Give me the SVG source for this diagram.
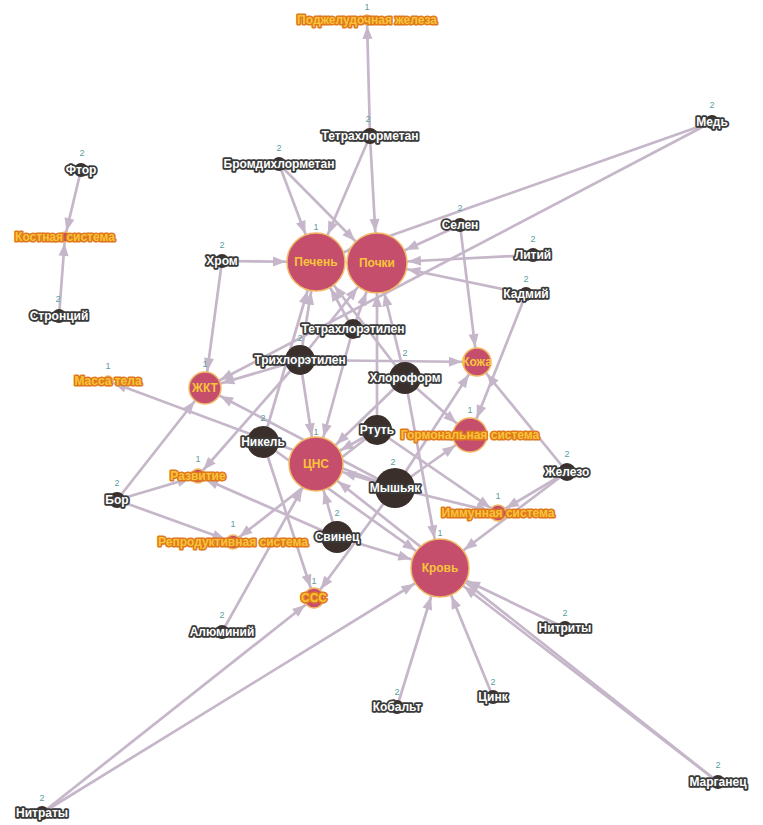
<svg xmlns="http://www.w3.org/2000/svg" width="763" height="825" viewBox="0 0 763 825">
<style>
.e line{stroke:#c5b7c9;stroke-width:2.7;fill:none}
.t circle{fill:#c54e6d;stroke:#f2b866;stroke-width:1.5}
.s circle{fill:#3a2f2b}
text{font-family:"Liberation Sans",Arial,sans-serif;text-anchor:middle;dominant-baseline:central}
.tl{font-size:12px;font-weight:bold;fill:#f8c43a;stroke:#e0791c;stroke-width:3.2;paint-order:stroke;stroke-linejoin:round}
.tin{font-size:12px;font-weight:bold;fill:#f8c43a}
.sl{font-size:12px;font-weight:bold;fill:#ffffff;stroke:#3a3a3a;stroke-width:3.6;paint-order:stroke;stroke-linejoin:round}
.n{font-size:9px;fill:#5b9d9f}
</style>
<defs>
<marker id="a5" markerUnits="userSpaceOnUse" markerWidth="13" markerHeight="10" refX="19" refY="5" orient="auto" overflow="visible"><path d="M0,0L13,5L0,10Z" fill="#c5b7c9"/></marker>
<marker id="a7" markerUnits="userSpaceOnUse" markerWidth="13" markerHeight="10" refX="21" refY="5" orient="auto" overflow="visible"><path d="M0,0L13,5L0,10Z" fill="#c5b7c9"/></marker>
<marker id="a8" markerUnits="userSpaceOnUse" markerWidth="13" markerHeight="10" refX="22" refY="5" orient="auto" overflow="visible"><path d="M0,0L13,5L0,10Z" fill="#c5b7c9"/></marker>
<marker id="a10" markerUnits="userSpaceOnUse" markerWidth="13" markerHeight="10" refX="24" refY="5" orient="auto" overflow="visible"><path d="M0,0L13,5L0,10Z" fill="#c5b7c9"/></marker>
<marker id="a14" markerUnits="userSpaceOnUse" markerWidth="13" markerHeight="10" refX="28" refY="5" orient="auto" overflow="visible"><path d="M0,0L13,5L0,10Z" fill="#c5b7c9"/></marker>
<marker id="a16" markerUnits="userSpaceOnUse" markerWidth="13" markerHeight="10" refX="30" refY="5" orient="auto" overflow="visible"><path d="M0,0L13,5L0,10Z" fill="#c5b7c9"/></marker>
<marker id="a17" markerUnits="userSpaceOnUse" markerWidth="13" markerHeight="10" refX="31" refY="5" orient="auto" overflow="visible"><path d="M0,0L13,5L0,10Z" fill="#c5b7c9"/></marker>
<marker id="a27" markerUnits="userSpaceOnUse" markerWidth="13" markerHeight="10" refX="41" refY="5" orient="auto" overflow="visible"><path d="M0,0L13,5L0,10Z" fill="#c5b7c9"/></marker>
<marker id="a29" markerUnits="userSpaceOnUse" markerWidth="13" markerHeight="10" refX="43" refY="5" orient="auto" overflow="visible"><path d="M0,0L13,5L0,10Z" fill="#c5b7c9"/></marker>
<marker id="a30" markerUnits="userSpaceOnUse" markerWidth="13" markerHeight="10" refX="44" refY="5" orient="auto" overflow="visible"><path d="M0,0L13,5L0,10Z" fill="#c5b7c9"/></marker>
</defs>
<rect width="763" height="825" fill="#ffffff"/>
<g id="connectors" class="e">
<line x1="370" y1="136" x2="367" y2="20" marker-end="url(#a5)"/>
<line x1="370" y1="136" x2="316" y2="262" marker-end="url(#a29)"/>
<line x1="370" y1="136" x2="377" y2="263" marker-end="url(#a30)"/>
<line x1="279" y1="164" x2="316" y2="262" marker-end="url(#a29)"/>
<line x1="279" y1="164" x2="377" y2="263" marker-end="url(#a30)"/>
<line x1="81" y1="170" x2="65" y2="237" marker-end="url(#a5)"/>
<line x1="59" y1="316" x2="65" y2="237" marker-end="url(#a5)"/>
<line x1="222" y1="261" x2="316" y2="262" marker-end="url(#a29)"/>
<line x1="222" y1="261" x2="205" y2="388" marker-end="url(#a16)"/>
<line x1="712" y1="122" x2="316" y2="262" marker-end="url(#a29)"/>
<line x1="712" y1="122" x2="205" y2="388" marker-end="url(#a16)"/>
<line x1="460" y1="225" x2="377" y2="263" marker-end="url(#a30)"/>
<line x1="460" y1="225" x2="477" y2="362" marker-end="url(#a14)"/>
<line x1="533" y1="255" x2="377" y2="263" marker-end="url(#a30)"/>
<line x1="526" y1="294" x2="377" y2="263" marker-end="url(#a30)"/>
<line x1="526" y1="294" x2="470" y2="435" marker-end="url(#a17)"/>
<line x1="353" y1="329" x2="316" y2="262" marker-end="url(#a29)"/>
<line x1="353" y1="329" x2="377" y2="263" marker-end="url(#a30)"/>
<line x1="353" y1="329" x2="316" y2="464" marker-end="url(#a27)"/>
<line x1="300" y1="360" x2="316" y2="262" marker-end="url(#a29)"/>
<line x1="300" y1="360" x2="377" y2="263" marker-end="url(#a30)"/>
<line x1="300" y1="360" x2="205" y2="388" marker-end="url(#a16)"/>
<line x1="300" y1="360" x2="477" y2="362" marker-end="url(#a14)"/>
<line x1="300" y1="360" x2="316" y2="464" marker-end="url(#a27)"/>
<line x1="300" y1="360" x2="198" y2="476" marker-end="url(#a7)"/>
<line x1="405" y1="378" x2="316" y2="262" marker-end="url(#a29)"/>
<line x1="405" y1="378" x2="377" y2="263" marker-end="url(#a30)"/>
<line x1="405" y1="378" x2="316" y2="464" marker-end="url(#a27)"/>
<line x1="405" y1="378" x2="470" y2="435" marker-end="url(#a17)"/>
<line x1="405" y1="378" x2="440" y2="568" marker-end="url(#a29)"/>
<line x1="377" y1="430" x2="377" y2="263" marker-end="url(#a30)"/>
<line x1="377" y1="430" x2="316" y2="464" marker-end="url(#a27)"/>
<line x1="377" y1="430" x2="498" y2="513" marker-end="url(#a8)"/>
<line x1="377" y1="430" x2="233" y2="542" marker-end="url(#a7)"/>
<line x1="263" y1="442" x2="316" y2="262" marker-end="url(#a29)"/>
<line x1="263" y1="442" x2="314" y2="598" marker-end="url(#a10)"/>
<line x1="263" y1="442" x2="440" y2="568" marker-end="url(#a29)"/>
<line x1="395" y1="488" x2="477" y2="362" marker-end="url(#a14)"/>
<line x1="395" y1="488" x2="470" y2="435" marker-end="url(#a17)"/>
<line x1="395" y1="488" x2="316" y2="464" marker-end="url(#a27)"/>
<line x1="395" y1="488" x2="314" y2="598" marker-end="url(#a10)"/>
<line x1="395" y1="488" x2="108" y2="381" marker-end="url(#a5)"/>
<line x1="395" y1="488" x2="205" y2="388" marker-end="url(#a16)"/>
<line x1="395" y1="488" x2="498" y2="513" marker-end="url(#a8)"/>
<line x1="337" y1="537" x2="316" y2="464" marker-end="url(#a27)"/>
<line x1="337" y1="537" x2="198" y2="476" marker-end="url(#a7)"/>
<line x1="337" y1="537" x2="440" y2="568" marker-end="url(#a29)"/>
<line x1="117" y1="500" x2="205" y2="388" marker-end="url(#a16)"/>
<line x1="117" y1="500" x2="198" y2="476" marker-end="url(#a7)"/>
<line x1="117" y1="500" x2="233" y2="542" marker-end="url(#a7)"/>
<line x1="567" y1="472" x2="477" y2="362" marker-end="url(#a14)"/>
<line x1="567" y1="472" x2="498" y2="513" marker-end="url(#a8)"/>
<line x1="567" y1="472" x2="440" y2="568" marker-end="url(#a29)"/>
<line x1="222" y1="632" x2="316" y2="464" marker-end="url(#a27)"/>
<line x1="565" y1="628" x2="440" y2="568" marker-end="url(#a29)"/>
<line x1="397" y1="707" x2="440" y2="568" marker-end="url(#a29)"/>
<line x1="493" y1="697" x2="440" y2="568" marker-end="url(#a29)"/>
<line x1="718" y1="782" x2="440" y2="568" marker-end="url(#a29)"/>
<line x1="718" y1="782" x2="316" y2="464" marker-end="url(#a27)"/>
<line x1="42" y1="813" x2="440" y2="568" marker-end="url(#a29)"/>
<line x1="42" y1="813" x2="314" y2="598" marker-end="url(#a10)"/>
</g>
<g id="targets">
<g id="pancreas" class="t"><circle cx="367" cy="20" r="5"/><text class="tl" x="367" y="20">Поджелудочная железа</text><text class="n" x="367" y="7">1</text></g>
<g id="bone" class="t"><circle cx="65" cy="237" r="5"/><text class="tl" x="65" y="237">Костная система</text></g>
<g id="liver" class="t"><circle cx="316" cy="262" r="29"/><text class="tin" x="316" y="262">Печень</text><text class="n" x="316" y="227">1</text></g>
<g id="kidney" class="t"><circle cx="377" cy="263" r="30"/><text class="tin" x="377" y="263">Почки</text></g>
<g id="gi" class="t"><circle cx="205" cy="388" r="16"/><text class="tin" x="205" y="388">ЖКТ</text><text class="n" x="205" y="364">1</text></g>
<g id="weight" class="t"><circle cx="108" cy="381" r="5"/><text class="tl" x="108" y="381">Масса тела</text><text class="n" x="108" y="366">1</text></g>
<g id="skin" class="t"><circle cx="477" cy="362" r="14"/><text class="tin" x="477" y="362">Кожа</text></g>
<g id="hormone" class="t"><circle cx="470" cy="435" r="17"/><text class="tl" x="470" y="435">Гормональная система</text><text class="n" x="470" y="410">1</text></g>
<g id="cns" class="t"><circle cx="316" cy="464" r="27"/><text class="tin" x="316" y="464">ЦНС</text><text class="n" x="316" y="432">1</text></g>
<g id="dev" class="t"><circle cx="198" cy="476" r="7"/><text class="tl" x="198" y="476">Развитие</text><text class="n" x="198" y="459">1</text></g>
<g id="repro" class="t"><circle cx="233" cy="542" r="7"/><text class="tl" x="233" y="542">Репродуктивная система</text><text class="n" x="233" y="524">1</text></g>
<g id="immune" class="t"><circle cx="498" cy="513" r="8"/><text class="tl" x="498" y="513">Иммунная система</text><text class="n" x="498" y="496">1</text></g>
<g id="cvs" class="t"><circle cx="314" cy="598" r="10"/><text class="tl" x="314" y="598">ССС</text><text class="n" x="314" y="581">1</text></g>
<g id="blood" class="t"><circle cx="440" cy="568" r="29"/><text class="tin" x="440" y="568">Кровь</text><text class="n" x="440" y="533">1</text></g>
</g>
<g id="sources">
<g id="ccl4" class="s"><circle cx="370" cy="136" r="8"/><text class="sl" x="370" y="136">Тетрахлорметан</text><text class="n" x="368" y="119">2</text></g>
<g id="bdcm" class="s"><circle cx="279" cy="164" r="7"/><text class="sl" x="279" y="164">Бромдихлорметан</text><text class="n" x="279" y="148">2</text></g>
<g id="fluor" class="s"><circle cx="81" cy="170" r="7"/><text class="sl" x="81" y="170">Фтор</text><text class="n" x="82" y="153">2</text></g>
<g id="sr" class="s"><circle cx="59" cy="316" r="7"/><text class="sl" x="59" y="316">Стронций</text><text class="n" x="58" y="299">2</text></g>
<g id="cr" class="s"><circle cx="222" cy="261" r="7"/><text class="sl" x="222" y="261">Хром</text><text class="n" x="222" y="245">2</text></g>
<g id="cu" class="s"><circle cx="712" cy="122" r="7"/><text class="sl" x="712" y="122">Медь</text><text class="n" x="712" y="105">2</text></g>
<g id="se" class="s"><circle cx="460" cy="225" r="7"/><text class="sl" x="460" y="225">Селен</text><text class="n" x="460" y="208">2</text></g>
<g id="li" class="s"><circle cx="533" cy="255" r="7"/><text class="sl" x="533" y="255">Литий</text><text class="n" x="533" y="239">2</text></g>
<g id="cd" class="s"><circle cx="526" cy="294" r="7"/><text class="sl" x="526" y="294">Кадмий</text><text class="n" x="526" y="279">2</text></g>
<g id="pce" class="s"><circle cx="353" cy="329" r="10"/><text class="sl" x="353" y="329">Тетрахлорэтилен</text></g>
<g id="tce" class="s"><circle cx="300" cy="360" r="15"/><text class="sl" x="300" y="360">Трихлорэтилен</text><text class="n" x="300" y="338">2</text></g>
<g id="chcl3" class="s"><circle cx="405" cy="378" r="16"/><text class="sl" x="405" y="378">Хлороформ</text><text class="n" x="405" y="353">2</text></g>
<g id="hg" class="s"><circle cx="377" cy="430" r="15"/><text class="sl" x="377" y="430">Ртуть</text></g>
<g id="ni" class="s"><circle cx="263" cy="442" r="16"/><text class="sl" x="263" y="442">Никель</text><text class="n" x="263" y="418">2</text></g>
<g id="as" class="s"><circle cx="395" cy="488" r="20"/><text class="sl" x="395" y="488">Мышьяк</text><text class="n" x="393" y="462">2</text></g>
<g id="pb" class="s"><circle cx="337" cy="537" r="16"/><text class="sl" x="337" y="537">Свинец</text><text class="n" x="337" y="513">2</text></g>
<g id="bor" class="s"><circle cx="117" cy="500" r="8"/><text class="sl" x="117" y="500">Бор</text><text class="n" x="117" y="483">2</text></g>
<g id="fe" class="s"><circle cx="567" cy="472" r="9"/><text class="sl" x="567" y="472">Железо</text><text class="n" x="567" y="454">2</text></g>
<g id="al" class="s"><circle cx="222" cy="632" r="7"/><text class="sl" x="222" y="632">Алюминий</text><text class="n" x="222" y="615">2</text></g>
<g id="no2" class="s"><circle cx="565" cy="628" r="7"/><text class="sl" x="565" y="628">Нитриты</text><text class="n" x="565" y="613">2</text></g>
<g id="co" class="s"><circle cx="397" cy="707" r="7"/><text class="sl" x="397" y="707">Кобальт</text><text class="n" x="397" y="692">2</text></g>
<g id="zn" class="s"><circle cx="493" cy="697" r="7"/><text class="sl" x="493" y="697">Цинк</text><text class="n" x="493" y="682">2</text></g>
<g id="mn" class="s"><circle cx="718" cy="782" r="7"/><text class="sl" x="718" y="782">Марганец</text><text class="n" x="718" y="765">2</text></g>
<g id="no3" class="s"><circle cx="42" cy="813" r="7"/><text class="sl" x="42" y="813">Нитраты</text><text class="n" x="42" y="798">2</text></g>
</g>
</svg>
